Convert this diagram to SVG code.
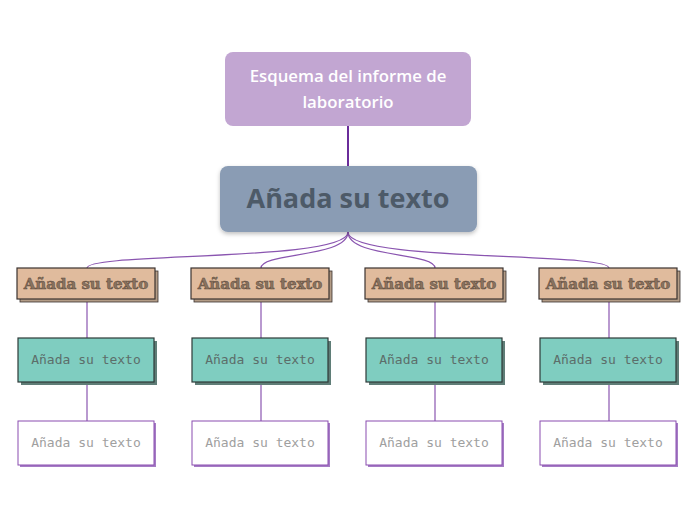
<svg xmlns="http://www.w3.org/2000/svg" width="696" height="520" viewBox="0 0 696 520">
<defs>
<filter id="ds" x="-10%" y="-20%" width="120%" height="150%"><feDropShadow dx="0" dy="2" stdDeviation="2" flood-color="#000" flood-opacity="0.25"/></filter>
<style>
.conn{fill:none;stroke:#8a55b0;stroke-width:1.2}
.l2{fill:#e0bb9d;stroke:#3a3330;stroke-width:1.2}
.l2s{fill:#b39c86;stroke:#3a3330;stroke-width:0.8}
.l2t{font-family:"DejaVu Serif","Liberation Serif",serif;font-weight:bold;font-size:15px;fill:#8a735f;stroke:#5e4c3e;stroke-width:0.5;text-anchor:middle}
.l3{fill:#7fcdc0;stroke:#2e3a38;stroke-width:1.2}
.l3s{fill:#5f7d77}
.l3t{font-family:"DejaVu Sans Mono","Liberation Mono",monospace;font-size:13px;fill:#5c6e6a;text-anchor:middle}
.l4{fill:#fff;stroke:#8a4db0;stroke-width:1}
.l4s{fill:#a57cc4}
.l4t{font-family:"DejaVu Sans Mono","Liberation Mono",monospace;font-size:13px;fill:#a0a0a0;text-anchor:middle}
</style>
</defs>
<rect width="696" height="520" fill="#fff"/>
<g id="connectors">
<line x1="348" y1="126" x2="348" y2="166" stroke="#6a2c9a" stroke-width="2"/>
<path class="conn" d="M348,232 C348,262 87,252 87,268"/>
<path class="conn" d="M348,232 C348,258 261,252 261,268"/>
<path class="conn" d="M348,232 C348,258 435,252 435,268"/>
<path class="conn" d="M348,232 C348,262 609,252 609,268"/>
<line class="conn" x1="87" y1="299" x2="87" y2="338"/>
<line class="conn" x1="87" y1="382" x2="87" y2="421"/>
<line class="conn" x1="261" y1="299" x2="261" y2="338"/>
<line class="conn" x1="261" y1="382" x2="261" y2="421"/>
<line class="conn" x1="435" y1="299" x2="435" y2="338"/>
<line class="conn" x1="435" y1="382" x2="435" y2="421"/>
<line class="conn" x1="609" y1="299" x2="609" y2="338"/>
<line class="conn" x1="609" y1="382" x2="609" y2="421"/>
</g>
<g id="root">
<rect x="225" y="52" width="246" height="74" rx="8" fill="#c2a6d2"/>
<text x="348" y="82" font-family="Open Sans, Noto Sans, sans-serif" font-weight="600" font-size="16.8" fill="#fff" text-anchor="middle">Esquema del informe de</text>
<text x="348" y="108" font-family="Open Sans, Noto Sans, sans-serif" font-weight="600" font-size="16.8" fill="#fff" text-anchor="middle">laboratorio</text>
</g>
<g id="main">
<rect x="220" y="166" width="257" height="66" rx="8" fill="#8a9cb4" filter="url(#ds)"/>
<text x="348" y="208" font-family="Open Sans, Noto Sans, sans-serif" font-weight="bold" font-size="27" fill="#4d5a68" text-anchor="middle">Añada su texto</text>
</g>
<g id="n1a"><rect class="l2s" x="20" y="271" width="138" height="31"/><rect class="l2" x="17" y="268" width="138" height="31"/><text class="l2t" x="86" y="289">Añada su texto</text></g>
<g id="n2a"><rect class="l2s" x="194" y="271" width="138" height="31"/><rect class="l2" x="191" y="268" width="138" height="31"/><text class="l2t" x="260" y="289">Añada su texto</text></g>
<g id="n3a"><rect class="l2s" x="368" y="271" width="138" height="31"/><rect class="l2" x="365" y="268" width="138" height="31"/><text class="l2t" x="434" y="289">Añada su texto</text></g>
<g id="n4a"><rect class="l2s" x="542" y="271" width="138" height="31"/><rect class="l2" x="539" y="268" width="138" height="31"/><text class="l2t" x="608" y="289">Añada su texto</text></g>
<g id="n1b"><rect class="l3s" x="21" y="341" width="136" height="44"/><rect class="l3" x="18" y="338" width="136" height="44"/><text class="l3t" x="86" y="364">Añada su texto</text></g>
<g id="n2b"><rect class="l3s" x="195" y="341" width="136" height="44"/><rect class="l3" x="192" y="338" width="136" height="44"/><text class="l3t" x="260" y="364">Añada su texto</text></g>
<g id="n3b"><rect class="l3s" x="369" y="341" width="136" height="44"/><rect class="l3" x="366" y="338" width="136" height="44"/><text class="l3t" x="434" y="364">Añada su texto</text></g>
<g id="n4b"><rect class="l3s" x="543" y="341" width="136" height="44"/><rect class="l3" x="540" y="338" width="136" height="44"/><text class="l3t" x="608" y="364">Añada su texto</text></g>
<g id="n1c"><rect class="l4s" x="20" y="423" width="136" height="44"/><rect class="l4" x="18" y="421" width="136" height="44"/><text class="l4t" x="86" y="447">Añada su texto</text></g>
<g id="n2c"><rect class="l4s" x="194" y="423" width="136" height="44"/><rect class="l4" x="192" y="421" width="136" height="44"/><text class="l4t" x="260" y="447">Añada su texto</text></g>
<g id="n3c"><rect class="l4s" x="368" y="423" width="136" height="44"/><rect class="l4" x="366" y="421" width="136" height="44"/><text class="l4t" x="434" y="447">Añada su texto</text></g>
<g id="n4c"><rect class="l4s" x="542" y="423" width="136" height="44"/><rect class="l4" x="540" y="421" width="136" height="44"/><text class="l4t" x="608" y="447">Añada su texto</text></g>
</svg>
